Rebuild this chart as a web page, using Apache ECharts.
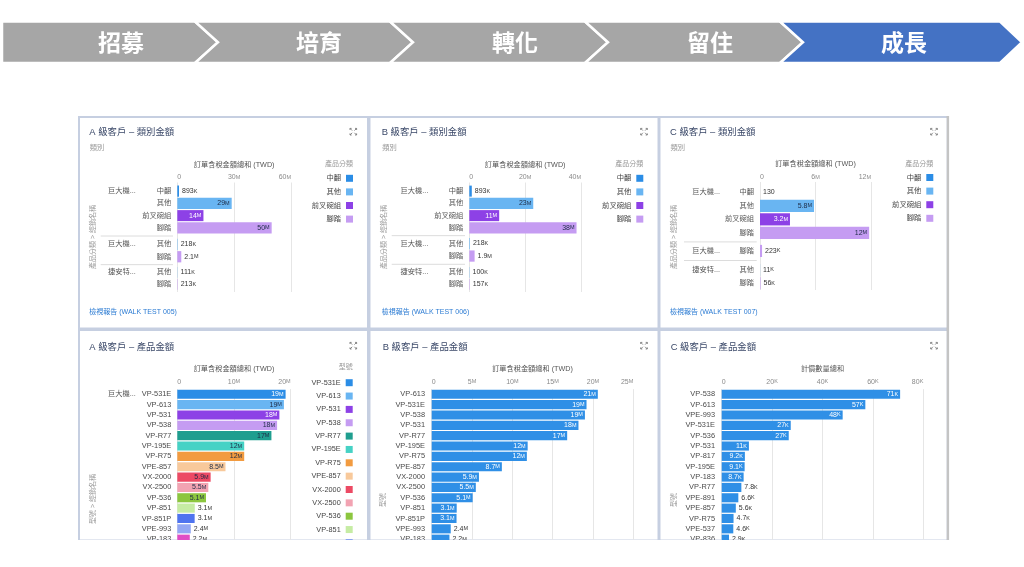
<!DOCTYPE html>
<html><head><meta charset="utf-8">
<script src="https://cdn.jsdelivr.net/npm/echarts@6/dist/echarts.min.js"></script>
<style>html,body{margin:0;padding:0;background:#fff;}#c{width:1024px;height:567px;}</style>
</head><body><div id="c"></div>
<script>
// ================= DATA =================
const bannerSteps = ['招募', '培育', '轉化', '留住', '成長'];
const bannerActive = 4;

const productTypes = ['中翻', '其他', '前叉碗組', '腳踏'];
const topAxisName = '訂單含稅金額總和 (TWD)';
const topSubtitle = '類別';
const topYName = '產品分類 > 經銷名稱';
const topLegendTitle = '產品分類';

const topATitle = 'A 級客戶 – 類別金額';
const topAGroups = ['巨大機...', '巨大機...', '捷安特...'];
const topARows = [['中翻', '其他', '前叉碗組', '腳踏'], ['其他', '腳踏'], ['其他', '腳踏']];
const topAValues = [[893000, 28.7e6, 13.8e6, 49.8e6], [218000, 2.1e6], [111000, 213000]];
const topATicks = [0, 30e6, 60e6];
const topAReport = '檢視報告 (WALK TEST 005)';

const topBTitle = 'B 級客戶 – 類別金額';
const topBGroups = ['巨大機...', '巨大機...', '捷安特...'];
const topBRows = [['中翻', '其他', '前叉碗組', '腳踏'], ['其他', '腳踏'], ['其他', '腳踏']];
const topBValues = [[893000, 22.9e6, 10.7e6, 38.4e6], [218000, 1.9e6], [100000, 157000]];
const topBTicks = [0, 20e6, 40e6];
const topBReport = '檢視報告 (WALK TEST 006)';

const topCTitle = 'C 級客戶 – 類別金額';
const topCGroups = ['巨大機...', '巨大機...', '捷安特...'];
const topCRows = [['中翻', '其他', '前叉碗組', '腳踏'], ['腳踏'], ['其他', '腳踏']];
const topCValues = [[130, 5.84e6, 3.24e6, 11.8e6], [223000], [11000, 56000]];
const topCTicks = [0, 6e6, 12e6];
const topCReport = '檢視報告 (WALK TEST 007)';

const botATitle = 'A 級客戶 – 產品金額';
const botAAxisName = '訂單含稅金額總和 (TWD)';
const botAYName = '型號 > 經銷名稱';
const botAGroup = '巨大機...';
const botALegendTitle = '型號';
const botAModels = ['VP-531E', 'VP-613', 'VP-531', 'VP-538', 'VP-R77', 'VP-195E', 'VP-R75', 'VPE-857', 'VX-2000', 'VX-2500', 'VP-536', 'VP-851', 'VP-851P', 'VPE-993', 'VP-183'];
const botAValues = [19.1e6, 18.8e6, 18.0e6, 17.6e6, 16.6e6, 11.8e6, 11.8e6, 8.5e6, 5.88e6, 5.47e6, 5.06e6, 3.08e6, 3.06e6, 2.38e6, 2.2e6];
const botATicks = [0, 10e6, 20e6];

const botBTitle = 'B 級客戶 – 產品金額';
const botBAxisName = '訂單含稅金額總和 (TWD)';
const botBYName = '型號';
const botBModels = ['VP-613', 'VP-531E', 'VP-538', 'VP-531', 'VP-R77', 'VP-195E', 'VP-R75', 'VPE-857', 'VX-2000', 'VX-2500', 'VP-536', 'VP-851', 'VP-851P', 'VPE-993', 'VP-183'];
const botBValues = [20.6e6, 19.2e6, 19.0e6, 18.2e6, 16.8e6, 11.9e6, 11.8e6, 8.7e6, 5.86e6, 5.47e6, 5.08e6, 3.1e6, 3.08e6, 2.36e6, 2.2e6];
const botBTicks = [0, 5e6, 10e6, 15e6, 20e6, 25e6];

const botCTitle = 'C 級客戶 – 產品金額';
const botCAxisName = '計價數量總和';
const botCYName = '型號';
const botCModels = ['VP-538', 'VP-613', 'VPE-993', 'VP-531E', 'VP-536', 'VP-531', 'VP-817', 'VP-195E', 'VP-183', 'VP-R77', 'VPE-891', 'VPE-857', 'VP-R75', 'VPE-537', 'VP-836'];
const botCValues = [70800, 57000, 48000, 27400, 26600, 10800, 9200, 9100, 8700, 7800, 6600, 5600, 4700, 4600, 2900];
const botCTicks = [0, 20000, 40000, 60000, 80000];

// ================= STYLES =================
const FONT = "'Liberation Sans','Noto Sans CJK TC',sans-serif";
const typeColor = {'中翻': '#2b8de6', '其他': '#69b5f2', '前叉碗組': '#8d41e6', '腳踏': '#c59cf2'};
const typeWhite = {'中翻': true, '其他': false, '前叉碗組': true, '腳踏': false};
const modelColor = {
  'VP-531E': '#2b8de6', 'VP-613': '#69b5f2', 'VP-531': '#8d41e6', 'VP-538': '#c59cf2',
  'VP-R77': '#1f9e8f', 'VP-195E': '#46d2c5', 'VP-R75': '#f29b40', 'VPE-857': '#f8c99b',
  'VX-2000': '#ec4a64', 'VX-2500': '#f2a3b2', 'VP-536': '#8cc63f', 'VP-851': '#c6eca4',
  'VP-851P': '#4f74ef', 'VPE-993': '#93a7f4', 'VP-183': '#e04dc5'
};
const modelWhite = {'VP-531E': true, 'VP-531': true, 'VP-851P': true, 'VP-183': true};
const singleColor = '#2f8fe6';

// ================= HELPERS =================
function fmtParts(v) {
  const a = Math.abs(v); let n = v, u = '';
  if (a >= 1e6) { n = v / 1e6; u = 'M'; } else if (a >= 1e3) { n = v / 1e3; u = 'K'; }
  let s;
  if (Math.abs(n - Math.round(n)) < 1e-9) s = String(Math.round(n));
  else if (u && n < 10) s = n.toFixed(1);
  else s = String(Math.round(n));
  return [s, u];
}
function richStr(v) { const [s, u] = fmtParts(v); return u ? `{n|${s}}{u|${u}}` : `{n|${s}}`; }
const axisRich = {n: {fontSize: 7, color: '#8a8a8a', fontFamily: FONT}, u: {fontSize: 5.5, color: '#8a8a8a', fontFamily: FONT}};

function barItem(v, max, W, whiteInside) {
  const px = v / max * W;
  const inside = px >= 21;
  const col = inside ? (whiteInside ? '#ffffff' : '#1d2b46') : '#333333';
  return {
    value: v, lbl: richStr(v),
    label: {show: true, position: inside ? 'insideRight' : 'right', distance: inside ? 2 : 3,
      rich: {n: {fontSize: 7, color: col, fontFamily: FONT}, u: {fontSize: 5.5, color: col, fontFamily: FONT}}}
  };
}

const grid = [], xAxis = [], yAxis = [], series = [], legend = [], graphic = [];

function txt(x, y, text, st, extra) {
  return Object.assign({type: 'text', x, y, z: 10,
    style: Object.assign({text, fontFamily: FONT, fontSize: 7, fill: '#555', align: 'left', verticalAlign: 'middle'}, st || {})}, extra || {});
}
function expandIcon(cx, cy) {
  const c = '#7d7d7d', lw = 0.9, a = 1.1, b = 3.3, h = 1.6;
  [[1, 1], [1, -1], [-1, 1], [-1, -1]].forEach(([sx, sy]) => {
    graphic.push({type: 'polyline', z: 10, shape: {points: [[cx + sx * a, cy + sy * a], [cx + sx * b, cy + sy * b]]}, style: {stroke: c, lineWidth: lw}});
    graphic.push({type: 'polyline', z: 10, shape: {points: [[cx + sx * (b - h), cy + sy * b], [cx + sx * b, cy + sy * b], [cx + sx * b, cy + sy * (b - h)]]}, style: {stroke: c, lineWidth: lw, fill: null}});
  });
}
function valueAxisTop(gi, ticks, name, nameGap, margin) {
  return {gridIndex: gi, type: 'value', position: 'top', min: ticks[0], max: ticks[ticks.length - 1], interval: ticks[1] - ticks[0],
    name, nameLocation: 'middle', nameGap, nameMoveOverlap: false,
    nameTextStyle: {fontSize: 7.2, color: '#555', fontFamily: FONT, fontWeight: 'normal'},
    axisLine: {show: false}, axisTick: {show: false},
    splitLine: {show: true, lineStyle: {color: '#e6e6e6', width: 1}},
    axisLabel: {margin, formatter: v => richStr(v), rich: axisRich, alignMinLabel: 'left', alignMaxLabel: 'right'}};
}
function legendCfg(names, right, top, gap) {
  return {data: names, orient: 'vertical', right, top, height: 320, align: 'right',
    itemWidth: 7, itemHeight: 7, itemGap: gap, icon: 'rect', padding: 0, selectedMode: false,
    textStyle: {fontSize: 7.3, color: '#444', fontFamily: FONT, fontWeight: 'normal', lineHeight: 9}};
}

// ================= TOP CHARTS =================
function buildTop(L, d) {
  const max = d.ticks[d.ticks.length - 1];
  const W = L.gridR - L.gridL;
  const bg = grid.length;
  grid.push({left: L.gridL, top: L.gridT, width: W, height: L.gridB - L.gridT, outerBoundsMode: 'none'});
  xAxis.push(valueAxisTop(bg, d.ticks, topAxisName, 14, 1.5));
  yAxis.push({gridIndex: bg, type: 'value', show: false});
  const boxes = [];
  d.groups.forEach((gname, gi) => {
    const gIdx = grid.length;
    const top = L.groups[gi][0], h = L.groups[gi][1];
    boxes.push([top, top + h]);
    grid.push({left: L.gridL, top, width: W, height: h, outerBoundsMode: 'none'});
    xAxis.push({gridIndex: gIdx, type: 'value', min: 0, max, show: false});
    const rows = d.rows[gi];
    yAxis.push({gridIndex: gIdx, type: 'category', inverse: true, data: rows,
      axisLine: {show: false}, axisTick: {show: false}, splitLine: {show: false},
      axisLabel: {interval: 0, margin: 6,
        formatter: (v, i) => i === 0 ? `{g|${gname}}{s|${v}}` : `{g| }{s|${v}}`,
        rich: {g: {width: L.labelW[0], align: 'left', fontSize: 7.25, color: '#555', fontFamily: FONT},
               s: {width: L.labelW[1], align: 'right', fontSize: 7.25, color: '#555', fontFamily: FONT}}}});
    productTypes.forEach(t => {
      if (!rows.includes(t)) return;
      series.push({type: 'bar', name: t, xAxisIndex: gIdx, yAxisIndex: gIdx, stack: 's' + gIdx, barCategoryGap: '10%',
        itemStyle: {color: typeColor[t]},
        label: {show: true, formatter: p => p.data.lbl},
        data: rows.map((r, i) => r === t ? barItem(d.values[gi][i], max, W, typeWhite[t]) : '-')});
    });
  });
  for (let i = 1; i < boxes.length; i++) {
    const y = (boxes[i - 1][1] + boxes[i][0]) / 2;
    graphic.push({type: 'line', z: 5, shape: {x1: L.sepX[0], y1: y, x2: L.sepX[1], y2: y}, style: {stroke: '#dcdcdc', lineWidth: 1}});
  }
  legend.push(legendCfg(productTypes, 1024 - L.legendR, L.legendTop, 4.6));
  graphic.push(txt(L.titleX, 132.3, d.title, {fontSize: 9.4, fill: '#3a4868'}));
  graphic.push(txt(L.titleX + 0.5, 148.3, topSubtitle, {fontSize: 7.3, fill: '#9a9a9a'}));
  graphic.push(txt(L.legendR, 164, topLegendTitle, {fontSize: 7, fill: '#9a9a9a', align: 'right'}));
  graphic.push(txt(L.yNameX, 237, topYName, {fontSize: 7, fill: '#9a9a9a', align: 'center'}, {rotation: Math.PI / 2}));
  graphic.push(txt(L.titleX, 311.7, d.report, {fontSize: 7, fill: '#2b7bd3'}));
  expandIcon(L.iconX, 131.7);
}

// ================= BOTTOM CHARTS =================
function buildBottom(L, d) {
  const max = d.ticks[d.ticks.length - 1];
  const W = L.gridR - L.gridL;
  const gi = grid.length;
  const n = d.models.length;
  grid.push({left: L.gridL, top: L.gridT, width: W, height: n * L.band, outerBoundsMode: 'none'});
  xAxis.push(valueAxisTop(gi, d.ticks, d.axisName, 16, 4));
  const yLabel = d.group ?
    {interval: 0, margin: 6, formatter: (v, i) => i === 0 ? `{g|${d.group}}{s|${v}}` : `{g| }{s|${v}}`,
      rich: {g: {width: L.labelW[0], align: 'left', fontSize: 7.25, color: '#555', fontFamily: FONT},
             s: {width: L.labelW[1], align: 'right', fontSize: 7.4, color: '#4a4a4a', fontFamily: FONT}}} :
    {interval: 0, margin: 6.7, fontSize: 7.4, color: '#4a4a4a', fontFamily: FONT};
  yAxis.push({gridIndex: gi, type: 'category', inverse: true, data: d.models,
    axisLine: {show: false}, axisTick: {show: false}, splitLine: {show: false}, axisLabel: yLabel});
  if (d.byModel) {
    d.models.forEach((m, i) => {
      series.push({type: 'bar', name: m, xAxisIndex: gi, yAxisIndex: gi, stack: 'b' + gi, barCategoryGap: '12%',
        itemStyle: {color: modelColor[m]}, label: {show: true, formatter: p => p.data.lbl},
        data: d.models.map((mm, j) => j === i ? barItem(d.values[j], max, W, !!modelWhite[m]) : '-')});
    });
    legend.push(legendCfg(d.models, 1024 - L.legendR, L.legendTop, 4.35));
    graphic.push(txt(L.legendR, 367.3, d.legendTitle, {fontSize: 7, fill: '#9a9a9a', align: 'right'}));
  } else {
    series.push({type: 'bar', name: d.title, xAxisIndex: gi, yAxisIndex: gi, barCategoryGap: '12%',
      itemStyle: {color: singleColor}, label: {show: true, formatter: p => p.data.lbl},
      data: d.values.map(v => barItem(v, max, W, true))});
  }
  graphic.push(txt(L.titleX, 347.3, d.title, {fontSize: 9.4, fill: '#3a4868'}));
  graphic.push(txt(L.yNameX, L.yNameY, d.yName, {fontSize: 7, fill: '#9a9a9a', align: 'center'}, {rotation: Math.PI / 2}));
  expandIcon(L.iconX, 345.7);
}

// ================= BACKGROUND / BANNER =================
graphic.push({type: 'rect', z: -10, shape: {x: 0, y: 0, width: 1024, height: 567}, style: {fill: '#ffffff'}});
bannerSteps.forEach((s, i) => {
  const x0 = i === 0 ? 2 : i * 195;
  const xr = i === bannerSteps.length - 1 ? 1000 : i * 195 + 195;
  const tip = i === bannerSteps.length - 1 ? 1022 : i * 195 + 218;
  const T = 21.5, B = 63, M = 42.25;
  const pts = [[x0, T], [xr, T], [tip, M], [xr, B], [x0, B]];
  if (i > 0) pts.push([x0 + 23, M]);
  graphic.push({type: 'polygon', z: -5, shape: {points: pts},
    style: {fill: i === bannerActive ? '#4472c4' : '#a6a6a6', stroke: '#ffffff', lineWidth: 2.5}});
});
const bannerTextX = [121, 319, 515, 710, 904];
bannerSteps.forEach((s, i) => {
  graphic.push(txt(bannerTextX[i], 42.5, s, {fontSize: 23, fill: '#ffffff', align: 'center', fontWeight: 'bold', fontFamily: "'Noto Sans CJK TC',sans-serif"}));
});
graphic.push({type: 'rect', z: -6, shape: {x: 78, y: 116, width: 870, height: 424.5}, style: {fill: '#c6cfe1'}});
graphic.push({type: 'rect', z: -5.5, shape: {x: 946.5, y: 116, width: 2.8, height: 424.5}, style: {fill: '#c4c4c4'}});
const panelCols = [[80, 367], [370.5, 657.5], [660.5, 946.5]];
const panelRows = [[118, 327.5], [331, 539.5]];
panelRows.forEach(r => panelCols.forEach(c => {
  graphic.push({type: 'rect', z: -5, shape: {x: c[0], y: r[0], width: c[1] - c[0], height: r[1] - r[0]}, style: {fill: '#ffffff'}});
}));

// ================= BUILD =================
buildTop({gridL: 177.3, gridR: 291, gridT: 182.5, gridB: 292, groups: [[185, 49], [238, 25], [266.3, 24]], labelW: [30, 33.3],
  sepX: [100.7, 173], legendR: 353, legendTop: 173.8, titleX: 89.3, yNameX: 93.3, iconX: 353.3},
  {title: topATitle, groups: topAGroups, rows: topARows, values: topAValues, ticks: topATicks, report: topAReport});
buildTop({gridL: 469.3, gridR: 581, gridT: 182.5, gridB: 292, groups: [[185, 49], [237.3, 25], [266.3, 24]], labelW: [30, 32.7],
  sepX: [391.7, 465], legendR: 643.3, legendTop: 173.8, titleX: 381.7, yNameX: 384, iconX: 644},
  {title: topBTitle, groups: topBGroups, rows: topBRows, values: topBValues, ticks: topBTicks, report: topBReport});
buildTop({gridL: 760, gridR: 871, gridT: 182, gridB: 290, groups: [[185.6, 54], [244.2, 13.5], [263.3, 26.7]], labelW: [29, 32.7],
  sepX: [684, 756.7], legendR: 933.3, legendTop: 173, titleX: 670, yNameX: 674, iconX: 934},
  {title: topCTitle, groups: topCGroups, rows: topCRows, values: topCValues, ticks: topCTicks, report: topCReport});

buildBottom({gridL: 177.3, gridR: 290.7, gridT: 389.1, band: 10.35, labelW: [30, 33.3], legendR: 352.7, legendTop: 378.2,
  titleX: 89.3, yNameX: 92.7, yNameY: 499, iconX: 353.3},
  {title: botATitle, axisName: botAAxisName, yName: botAYName, group: botAGroup, models: botAModels, values: botAValues,
   ticks: botATicks, byModel: true, legendTitle: botALegendTitle});
buildBottom({gridL: 431.7, gridR: 633.3, gridT: 389.1, band: 10.35, titleX: 382.7, yNameX: 383.5, yNameY: 500, iconX: 644},
  {title: botBTitle, axisName: botBAxisName, yName: botBYName, models: botBModels, values: botBValues, ticks: botBTicks, byModel: false});
buildBottom({gridL: 721.7, gridR: 923.3, gridT: 389.1, band: 10.35, titleX: 670.7, yNameX: 674, yNameY: 500, iconX: 934},
  {title: botCTitle, axisName: botCAxisName, yName: botCYName, models: botCModels, values: botCValues, ticks: botCTicks, byModel: false});

// clip everything below the dashboard bottom edge
graphic.push({type: 'rect', z: 100, shape: {x: 0, y: 540, width: 1024, height: 30}, style: {fill: '#ffffff'}});
graphic.push({type: 'rect', z: 100, shape: {x: 949.3, y: 100, width: 80, height: 470}, style: {fill: '#ffffff'}});

const chart = echarts.init(document.getElementById('c'));
chart.setOption({
  animation: false,
  backgroundColor: '#ffffff',
  textStyle: {fontFamily: FONT},
  grid, xAxis, yAxis, series, legend,
  graphic: {elements: graphic},
  tooltip: {show: false}
});
</script></body></html>
